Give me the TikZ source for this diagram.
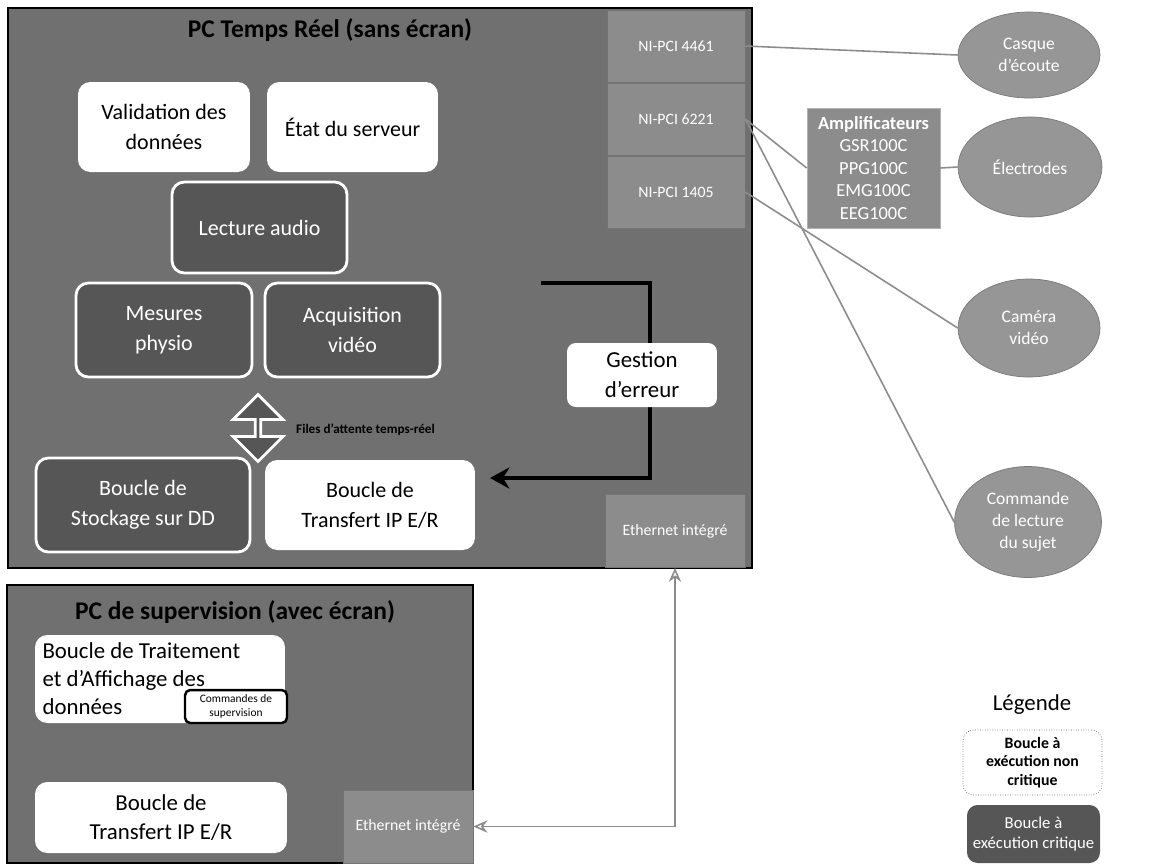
\documentclass[tikz,border=0pt]{standalone}
\usepackage{fontspec}
\setmainfont{Carlito}
\usetikzlibrary{shapes.geometric,shapes.arrows,arrows.meta}
\definecolor{boxbg}{RGB}{112,112,112}
\definecolor{loopdark}{RGB}{86,86,86}
\definecolor{cardgray}{RGB}{140,140,140}
\definecolor{ellgray}{RGB}{150,150,150}
\begin{document}
\begin{tikzpicture}[x=0.02cm, y=-0.02cm,
    bigbox/.style={rectangle, draw=black, line width=1.2pt, fill=boxbg},
    okloop/.style={rectangle, rounded corners=7pt, fill=white, text=black, align=center, font=\fontsize{12.5}{17}\selectfont},
    critloop/.style={rectangle, rounded corners=7pt, draw=white, line width=1.6pt, fill=loopdark, text=white, align=center, font=\fontsize{12.5}{17}\selectfont},
    card/.style={rectangle, draw=black!55, fill=cardgray, text=white, font=\fontsize{9}{11}\selectfont},
    periph/.style={ellipse, draw=ellgray!80!black, fill=ellgray, text=white, align=center, inner sep=1pt, font=\fontsize{10}{12.5}\selectfont},
    link/.style={draw=black!45, line width=0.9pt}]
    \useasboundingbox (0,0) rectangle (1156,867);

    % PC temps reel
    \node[bigbox, minimum width=14.88cm, minimum height=11.2cm] (rt) at (380,288) {};
    \node[font=\bfseries\fontsize{14.5}{16}\selectfont] (rtT) at (330,30) {PC Temps Réel (sans écran)};
    \node[card, minimum width=2.76cm, minimum height=1.44cm] (ni4461) at (676,46) {NI-PCI 4461};
    \node[card, minimum width=2.76cm, minimum height=1.44cm] (ni6221) at (676,119) {NI-PCI 6221};
    \node[card, minimum width=2.76cm, minimum height=1.44cm] (ni1405) at (676,192) {NI-PCI 1405};
    \node[card, minimum width=2.8cm, minimum height=1.46cm] (ethA) at (675,531) {Ethernet intégré};

    \node[okloop, minimum width=3.44cm, minimum height=1.8cm] (valid) at (164,127) {Validation des\\données};
    \node[okloop, minimum width=3.42cm, minimum height=1.8cm] (etat) at (352.5,127) {État du serveur};
    \node[critloop, minimum width=3.5cm, minimum height=1.82cm] (audio) at (259.5,227.5) {Lecture audio};
    \node[critloop, minimum width=3.52cm, minimum height=1.88cm] (physio) at (164,330) {Mesures\\physio};
    \node[critloop, minimum width=3.5cm, minimum height=1.88cm] (video) at (352.5,330) {Acquisition\\vidéo};
    \node[critloop, minimum width=4.28cm, minimum height=1.88cm] (stock) at (143,505) {Boucle de\\Stockage sur DD};
    \node[okloop, minimum width=4.2cm, minimum height=1.8cm] (transA) at (370,505) {Boucle de\\Transfert IP E/R};

    \node[double arrow, rotate=90, draw=white, line width=1.6pt, fill=loopdark, minimum width=1.0cm, double arrow head extend=0.23cm, minimum height=1.34cm, inner sep=0pt] (queue) at (258,428) {};
    \node[anchor=west, font=\bfseries\fontsize{7.5}{9}\selectfont] (queueL) at (290,430) {Files d’attente temps-réel};

    % gestion d'erreur
    \coordinate (errS) at (541,283);
    \coordinate (errE) at (490,478);
    \draw[line width=2.3pt, -{Stealth[length=11pt,width=12pt]}] (errS) -- (650,283) -- (650,478) -- (errE);
    \node[okloop, rounded corners=5pt, minimum width=3.0cm, minimum height=1.28cm, font=\fontsize{13}{17}\selectfont] (gestion) at (642,375) {Gestion\\d’erreur};

    % PC de supervision
    \node[bigbox, minimum width=9.32cm, minimum height=5.56cm] (sup) at (240,724) {};
    \node[font=\bfseries\fontsize{14.5}{16}\selectfont] (supT) at (235,612) {PC de supervision (avec écran)};
    \node[okloop, align=flush left, text width=4.7cm, minimum width=5.0cm, minimum height=1.76cm, inner sep=3pt, font=\fontsize{13}{16}\selectfont] (trait) at (160,679) {Boucle de Traitement\\et d’Affichage des\\données};
    \node[rectangle, rounded corners=3pt, draw=black, line width=1.4pt, fill=white, align=center, minimum width=2.04cm, minimum height=0.66cm, inner sep=1pt, font=\fontsize{6.5}{8}\selectfont] (cmd) at (236,706.5) {Commandes de\\supervision};
    \node[okloop, minimum width=5.04cm, minimum height=1.42cm, font=\fontsize{13}{17}\selectfont] (transB) at (161,817.5) {Boucle de\\Transfert IP E/R};
    \node[card, minimum width=2.6cm, minimum height=1.46cm] (ethB) at (408,826.5) {Ethernet intégré};

    % peripheriques
    \node[rectangle, fill=cardgray, draw=black!30, text=white, align=center, minimum width=2.66cm, minimum height=2.4cm, inner sep=1pt, font=\fontsize{10.5}{12.8}\selectfont] (amp) at (873.5,168) {\textbf{Amplificateurs}\\GSR100C\\PPG100C\\EMG100C\\EEG100C};
    \node[periph, minimum width=2.84cm, minimum height=1.72cm] (casque) at (1029,55) {Casque\\d’écoute};
    \node[periph, minimum width=2.88cm, minimum height=2.0cm] (electro) at (1030,167) {Électrodes};
    \node[periph, minimum width=2.84cm, minimum height=1.96cm] (camera) at (1029,328) {Caméra\\vidéo};
    \node[periph, minimum width=2.94cm, minimum height=2.22cm] (commande) at (1028,522) {Commande\\de lecture\\du sujet};

    \draw[link] (ni4461.east) -- (casque.west);
    \draw[link] (ni6221.east) -- (amp.west);
    \draw[link] (ni6221.east) -- (commande.west);
    \draw[link] (ni1405.east) -- (camera.west);
    \draw[link] (amp.east) -- (electro.west);
    \draw[link, {Stealth[open,length=8pt,width=7pt]}-{Stealth[open,length=8pt,width=7pt]}] (ethB.east) -| (ethA.south);

    % legende
    \node[font=\fontsize{13}{15}\selectfont] (legT) at (1032,705) {Légende};
    \node[rectangle, rounded corners=6pt, draw=black!60, densely dotted, fill=white, align=center, minimum width=2.78cm, minimum height=1.3cm, inner sep=1pt, font=\bfseries\fontsize{9}{10.5}\selectfont] (legA) at (1032.5,762.5) {Boucle à\\exécution non\\critique};
    \node[rectangle, rounded corners=6pt, fill=loopdark, text=white, align=center, minimum width=2.66cm, minimum height=1.16cm, inner sep=1pt, font=\fontsize{9.5}{11.5}\selectfont] (legB) at (1033.5,834) {Boucle à\\exécution critique};
\end{tikzpicture}
\end{document}
